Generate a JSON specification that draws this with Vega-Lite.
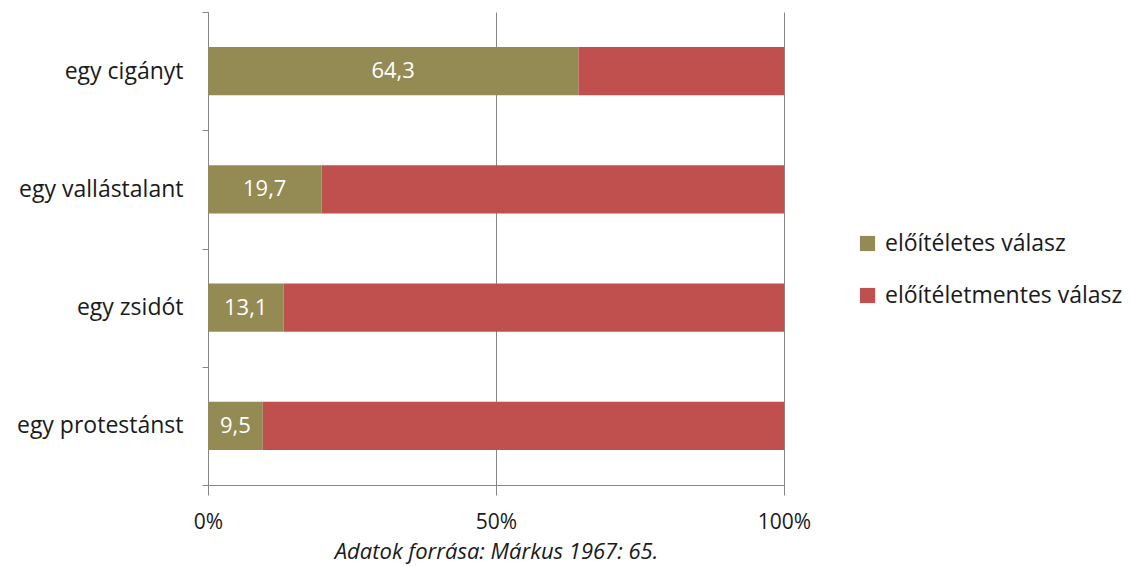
{
  "$schema": "https://vega.github.io/schema/vega-lite/v6.json",
  "autosize": {"type": "none"},
  "width": 576,
  "height": 473,
  "padding": {"left": 208, "top": 12, "right": 347, "bottom": 82},
  "background": "white",
  "config": {
    "font": "Open Sans",
    "view": {"stroke": null},
    "axis": {"labelFont": "Open Sans", "titleFont": "Open Sans"},
    "legend": {"labelFont": "Open Sans"}
  },
  "data": {
    "values": [
      {"kategoria": "egy cigányt", "valasz": "előítéletes válasz", "ertek": 64.3, "rend": 1, "felirat": "64,3"},
      {"kategoria": "egy cigányt", "valasz": "előítéletmentes válasz", "ertek": 35.7, "rend": 2, "felirat": ""},
      {"kategoria": "egy vallástalant", "valasz": "előítéletes válasz", "ertek": 19.7, "rend": 1, "felirat": "19,7"},
      {"kategoria": "egy vallástalant", "valasz": "előítéletmentes válasz", "ertek": 80.3, "rend": 2, "felirat": ""},
      {"kategoria": "egy zsidót", "valasz": "előítéletes válasz", "ertek": 13.1, "rend": 1, "felirat": "13,1"},
      {"kategoria": "egy zsidót", "valasz": "előítéletmentes válasz", "ertek": 86.9, "rend": 2, "felirat": ""},
      {"kategoria": "egy protestánst", "valasz": "előítéletes válasz", "ertek": 9.5, "rend": 1, "felirat": "9,5"},
      {"kategoria": "egy protestánst", "valasz": "előítéletmentes válasz", "ertek": 90.5, "rend": 2, "felirat": ""}
    ]
  },
  "encoding": {
    "y": {
      "field": "kategoria",
      "type": "nominal",
      "sort": ["egy cigányt", "egy vallástalant", "egy zsidót", "egy protestánst"],
      "scale": {"paddingInner": 0, "paddingOuter": 0},
      "axis": {
        "title": null,
        "domainColor": "#868686",
        "tickColor": "#868686",
        "tickSize": 6,
        "tickBand": "extent",
        "labelFontSize": 23,
        "labelColor": "#1a1a1a",
        "labelPadding": 19,
        "labelLimit": 0
      }
    },
    "x": {
      "field": "ertek",
      "type": "quantitative",
      "stack": "zero",
      "scale": {"domain": [0, 100], "nice": false},
      "axis": {
        "values": [0, 50, 100],
        "labelExpr": "datum.value + '%'",
        "labelFlush": false,
        "grid": true,
        "gridColor": "#868686",
        "domainColor": "#868686",
        "tickColor": "#868686",
        "tickSize": 10,
        "labelFontSize": 21,
        "labelColor": "#1a1a1a",
        "labelPadding": 16,
        "title": "Adatok forrása: Márkus 1967: 65.",
        "titleFontStyle": "italic",
        "titleFontWeight": "normal",
        "titleFontSize": 22,
        "titleColor": "#1a1a1a",
        "titlePadding": 9
      }
    }
  },
  "layer": [
    {
      "mark": {"type": "bar", "height": {"band": 0.41}},
      "encoding": {
        "color": {
          "field": "valasz",
          "type": "nominal",
          "scale": {
            "domain": ["előítéletes válasz", "előítéletmentes válasz"],
            "range": ["#948A54", "#C0504D"]
          },
          "legend": {
            "title": null,
            "orient": "none",
            "legendX": 648,
            "legendY": 220,
            "symbolType": "square",
            "symbolSize": 230,
            "symbolStrokeWidth": 0,
            "labelFontSize": 23,
            "labelColor": "#1a1a1a",
            "labelLimit": 0,
            "rowPadding": 28,
            "labelOffset": 6
          }
        },
        "order": {"field": "rend", "type": "quantitative"}
      }
    },
    {
      "mark": {"type": "text", "color": "white", "fontSize": 22, "align": "center", "baseline": "middle"},
      "encoding": {
        "x": {"field": "ertek", "type": "quantitative", "stack": "zero", "bandPosition": 0.5},
        "text": {"field": "felirat"},
        "order": {"field": "rend", "type": "quantitative"}
      }
    }
  ]
}
